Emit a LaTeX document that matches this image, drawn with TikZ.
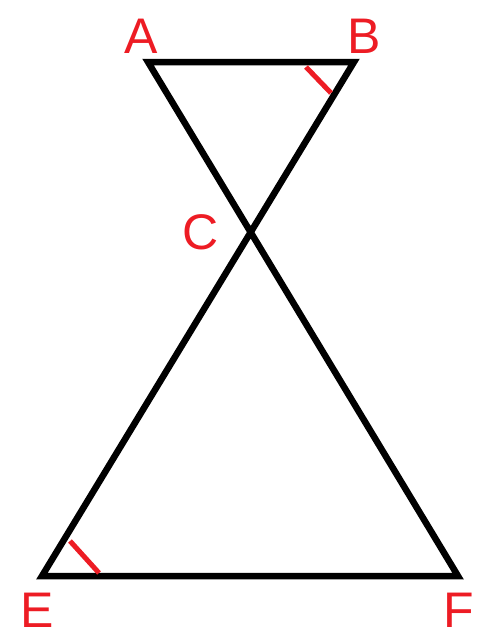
\documentclass[tikz,border=0pt]{standalone}
\usepackage{fontspec}
\setmainfont{Liberation Sans}
\definecolor{lbl}{RGB}{237,28,36}
\tikzset{
  edge/.style={line width=6.5pt, line cap=round, line join=miter},
  tick/.style={lbl, line width=5pt},
  lab/.style={text=lbl, font=\fontsize{50}{50}\selectfont, inner sep=0pt}
}
\begin{document}
\begin{tikzpicture}[x=1pt,y=-1pt]
\useasboundingbox (0,0) rectangle (485,638);
\coordinate (A) at (148,62);
\coordinate (B) at (354,62);
\coordinate (C) at (250,232);
\coordinate (E) at (42,576);
\coordinate (F) at (458,576);
\draw[edge] (A) -- (B) -- (E) -- (F) -- cycle;
\draw[tick] (306,67) -- (331,93);
\draw[tick] (70,541) -- (99,573);
\node[lab] (la) at (141,36) {A};
\node[lab] (lb) at (364,36) {B};
\node[lab] (lc) at (201,232) {C};
\node[lab] (le) at (37,610) {E};
\node[lab] (lf) at (459,610) {F};
\end{tikzpicture}
\end{document}
